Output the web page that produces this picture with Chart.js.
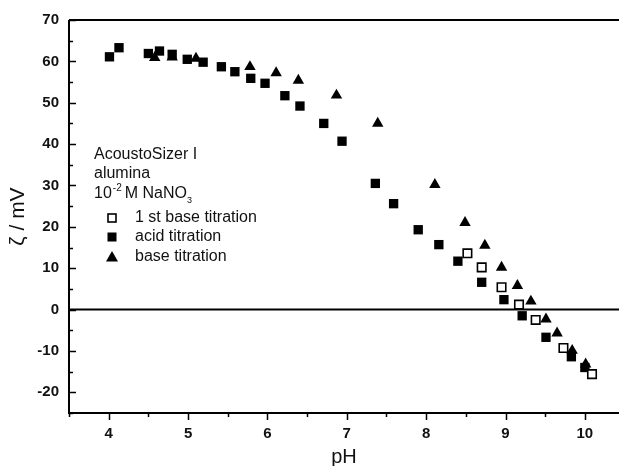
<!DOCTYPE html>
<html>
<head>
<meta charset="utf-8">
<script src="https://cdn.jsdelivr.net/npm/chart.js@4/dist/chart.umd.min.js"></script>
<style>
html,body{margin:0;padding:0;background:#fff;}
#wrap{width:619px;height:466px;position:relative;}
</style>
</head>
<body>
<div id="wrap"><canvas id="c" width="619" height="466"></canvas></div>
<script>
// ---- data ----
const acidPH   = [4.01,4.13,4.50,4.64,4.80,4.99,5.19,5.42,5.59,5.79,5.97,6.22,6.41,6.71,6.94,7.36,7.59,7.90,8.16,8.40,8.70,8.98,9.21,9.51,9.83,10.00];
const acidZeta = [61.1,63.3,61.9,62.5,61.7,60.5,59.8,58.7,57.5,55.9,54.7,51.7,49.2,45.0,40.7,30.5,25.6,19.3,15.7,11.7,6.6,2.4,-1.5,-6.7,-11.4,-14.0];
const basePH   = [4.58,4.80,5.10,5.78,6.11,6.39,6.87,7.39,8.11,8.49,8.74,8.95,9.15,9.32,9.51,9.65,9.84,10.01];
const baseZeta = [60.9,61.0,60.7,58.7,57.2,55.4,51.8,45.0,30.2,21.0,15.5,10.2,5.8,2.0,-2.3,-5.7,-9.9,-13.2];
const firstPH   = [8.52,8.70,8.95,9.17,9.38,9.73,10.09];
const firstZeta = [13.6,10.2,5.4,1.2,-2.5,-9.3,-15.6];
const xTicks = [4,5,6,7,8,9,10];
const yTicks = [-20,-10,0,10,20,30,40,50,60,70];
const seriesNames = ['1 st base titration','acid titration','base titration'];
const noteLines = ['AcoustoSizer I','alumina'];

const toPts = (xs, ys) => xs.map((x, i) => ({x: x, y: ys[i]}));
const FONT = '"Liberation Sans", Arial, sans-serif';

const overlay = {
  id: 'overlay',
  afterDraw(chart) {
    const ctx = chart.ctx, a = chart.chartArea;
    const xs = chart.scales.x, ys = chart.scales.y;
    ctx.save();
    ctx.strokeStyle = '#000';
    ctx.lineWidth = 2;
    ctx.beginPath();
    ctx.moveTo(a.left, a.top); ctx.lineTo(a.left, a.bottom); ctx.lineTo(a.right, a.bottom);
    ctx.moveTo(a.left, a.top); ctx.lineTo(a.right, a.top);
    const y0 = ys.getPixelForValue(0);
    ctx.moveTo(a.left, y0); ctx.lineTo(a.right, y0);
    ctx.stroke();
    ctx.lineWidth = 1.5;
    ctx.beginPath();
    for (let v = -25; v <= 70; v += 5) {
      const p = Math.round(ys.getPixelForValue(v)) + 0.5;
      const len = (v % 10 === 0) ? 7 : 4;
      ctx.moveTo(a.left, p); ctx.lineTo(a.left + len, p);
    }
    for (let v = 3.5; v <= 10.45; v += 0.5) {
      const p = Math.round(xs.getPixelForValue(v)) + 0.5;
      const len = (Math.abs(v - Math.round(v)) < 1e-6) ? 7 : 4;
      ctx.moveTo(p, a.bottom); ctx.lineTo(p, a.bottom + len);
    }
    ctx.stroke();

    ctx.fillStyle = '#111';
    ctx.textBaseline = 'middle';
    ctx.textAlign = 'left';
    ctx.font = '16px ' + FONT;
    const tx = 94;
    ctx.fillText(noteLines[0], tx, 155);
    ctx.fillText(noteLines[1], tx, 174);
    let x = tx;
    ctx.fillText('10', x, 194); x += ctx.measureText('10').width + 1;
    ctx.font = '10px ' + FONT;
    ctx.fillText('-2', x, 188); x += ctx.measureText('-2').width + 3;
    ctx.font = '16px ' + FONT;
    ctx.fillText('M NaNO', x, 194); x += ctx.measureText('M NaNO').width;
    ctx.font = '9px ' + FONT;
    ctx.fillText('3', x, 201);

    ctx.font = '16px ' + FONT;
    const rows = [218, 237, 257];
    const mx = 112;
    ctx.lineWidth = 1.6; ctx.strokeStyle = '#000'; ctx.fillStyle = '#fff';
    ctx.fillRect(mx - 4, rows[0] - 4, 8, 8); ctx.strokeRect(mx - 4, rows[0] - 4, 8, 8);
    ctx.fillStyle = '#000';
    ctx.fillRect(mx - 4.5, rows[1] - 4.5, 9, 9);
    ctx.beginPath();
    ctx.moveTo(mx, rows[2] - 6); ctx.lineTo(mx + 6, rows[2] + 4.5); ctx.lineTo(mx - 6, rows[2] + 4.5);
    ctx.closePath(); ctx.fill();
    ctx.fillStyle = '#111';
    seriesNames.forEach((n, i) => ctx.fillText(n, 135, rows[i]));
    ctx.restore();
  }
};

const bg = {
  id: 'bg',
  beforeDraw(chart) {
    const ctx = chart.ctx;
    ctx.save(); ctx.fillStyle = '#fff'; ctx.fillRect(0, 0, chart.width, chart.height); ctx.restore();
  }
};

new Chart(document.getElementById('c'), {
  type: 'scatter',
  data: {
    datasets: [
      {label: seriesNames[0], data: toPts(firstPH, firstZeta), pointStyle: 'rect', pointRadius: 6,
       backgroundColor: '#fff', borderColor: '#000', borderWidth: 1.6},
      {label: seriesNames[1], data: toPts(acidPH, acidZeta), pointStyle: 'rect', pointRadius: 6.6,
       backgroundColor: '#000', borderColor: '#000', borderWidth: 0},
      {label: seriesNames[2], data: toPts(basePH, baseZeta), pointStyle: 'triangle', pointRadius: 6.6,
       backgroundColor: '#000', borderColor: '#000', borderWidth: 0}
    ]
  },
  options: {
    responsive: false,
    animation: false,
    devicePixelRatio: 1,
    layout: {autoPadding: false, padding: {top: 20, right: 0, left: 0, bottom: 0}},
    plugins: {legend: {display: false}, tooltip: {enabled: false}},
    scales: {
      x: {
        type: 'linear', min: 3.5, max: 10.43,
        border: {display: false},
        grid: {display: false, drawTicks: false},
        afterBuildTicks: s => { s.ticks = xTicks.map(v => ({value: v})); },
        afterFit: s => { s.height = 53; s.paddingRight = 0; s.paddingLeft = 0; },
        ticks: {padding: 12, color: '#111', font: {family: FONT, size: 15, weight: 'bold'}, maxRotation: 0},
        title: {display: true, text: 'pH', color: '#111', font: {family: FONT, size: 20}, padding: {top: 0, bottom: -3}}
      },
      y: {
        type: 'linear', min: -25, max: 70,
        border: {display: false},
        grid: {display: false, drawTicks: false},
        afterBuildTicks: s => { s.ticks = yTicks.map(v => ({value: v})); },
        afterFit: s => { s.width = 69; s.paddingTop = 0; s.paddingBottom = 0; },
        ticks: {padding: 10, color: '#111', font: {family: FONT, size: 15, weight: 'bold'}},
        title: {display: true, text: 'ζ / mV', color: '#111', font: {family: FONT, size: 21}, padding: {top: 6, bottom: 0}}
      }
    }
  },
  plugins: [bg, overlay]
});
</script>
</body>
</html>
